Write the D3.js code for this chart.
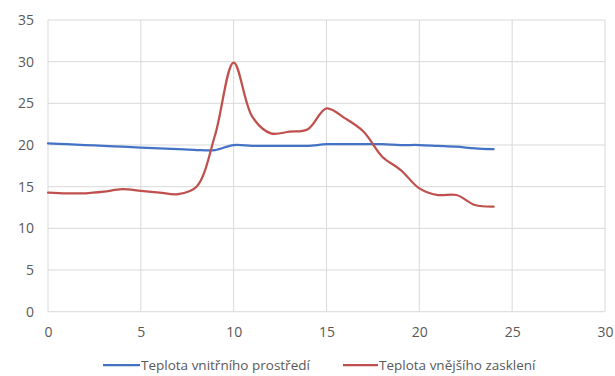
<!DOCTYPE html>
<html>
<head>
<meta charset="utf-8">
<script src="https://cdn.jsdelivr.net/npm/d3@7"></script>
<style>
  html, body { margin: 0; padding: 0; background: #fff; }
  svg { display: block; }
  text { font-family: "Open Sans", "Liberation Sans", sans-serif; fill: #595959; }
</style>
</head>
<body>
<svg id="chart" width="615" height="376"></svg>
<script>
const hours = [0,1,2,3,4,5,6,7,8,9,10,11,12,13,14,15,16,17,18,19,20,21,22,23,24];
const innerTemp = [20.2,20.1,20.0,19.9,19.8,19.7,19.6,19.5,19.4,19.4,20.0,19.9,19.9,19.9,19.9,20.1,20.1,20.1,20.1,20.0,20.0,19.9,19.8,19.6,19.5];
const glazingTemp = [14.3,14.2,14.2,14.4,14.7,14.5,14.3,14.1,15.0,21.2,29.9,23.4,21.4,21.6,21.9,24.4,23.2,21.6,18.6,17.0,14.8,14.0,14.0,12.8,12.6];
const xTicks = [0,5,10,15,20,25,30];
const yTicks = [0,5,10,15,20,25,30,35];
const seriesNames = ["Teplota vnitřního prostředí", "Teplota vnějšího zasklení"];
const seriesColors = ["#4472C4", "#C0504D"];

const svg = d3.select("#chart");
const x = d3.scaleLinear().domain([0, 30]).range([48, 605]);
const y = d3.scaleLinear().domain([0, 35]).range([311.7, 20]);

const grid = svg.append("g");
grid.selectAll("line.h").data(yTicks).join("line")
  .attr("x1", x(0)).attr("x2", x(30))
  .attr("y1", d => y(d)).attr("y2", d => y(d))
  .attr("stroke", "#d9d9d9").attr("stroke-width", 1);
grid.selectAll("line.v").data(xTicks).join("line")
  .attr("x1", d => x(d)).attr("x2", d => x(d))
  .attr("y1", y(0)).attr("y2", y(35))
  .attr("stroke", "#d9d9d9").attr("stroke-width", 1);

const yAxis = d3.axisLeft(y).tickValues(yTicks).tickSize(0).tickPadding(14);
svg.append("g").attr("transform", `translate(${x(0)},0)`).call(yAxis)
  .call(g => g.select(".domain").remove())
  .selectAll("text").style("font-size", "14px").attr("fill", "#595959");

const xAxis = d3.axisBottom(x).tickValues(xTicks).tickSize(0).tickPadding(15);
svg.append("g").attr("transform", `translate(0,${y(0)})`).call(xAxis)
  .call(g => g.select(".domain").remove())
  .selectAll("text").style("font-size", "14px").attr("fill", "#595959");

const line = d3.line().x((d, i) => x(hours[i])).y(d => y(d)).curve(d3.curveCatmullRom.alpha(0.5));
[innerTemp, glazingTemp].forEach((s, k) => {
  svg.append("path").datum(s).attr("d", line)
    .attr("fill", "none").attr("stroke", seriesColors[k])
    .attr("stroke-width", 2.25).attr("stroke-linejoin", "round").attr("stroke-linecap", "round");
});

const legendX = [103, 343];
const legendW = [37, 35];
const legend = svg.append("g");
seriesNames.forEach((n, k) => {
  legend.append("line").attr("x1", legendX[k]).attr("x2", legendX[k] + legendW[k])
    .attr("y1", 365).attr("y2", 365)
    .attr("stroke", seriesColors[k]).attr("stroke-width", 2.25);
  legend.append("text").attr("x", legendX[k] + legendW[k] + 1).attr("y", 370)
    .style("font-size", "13.5px").text(n);
});
</script>
</body>
</html>
